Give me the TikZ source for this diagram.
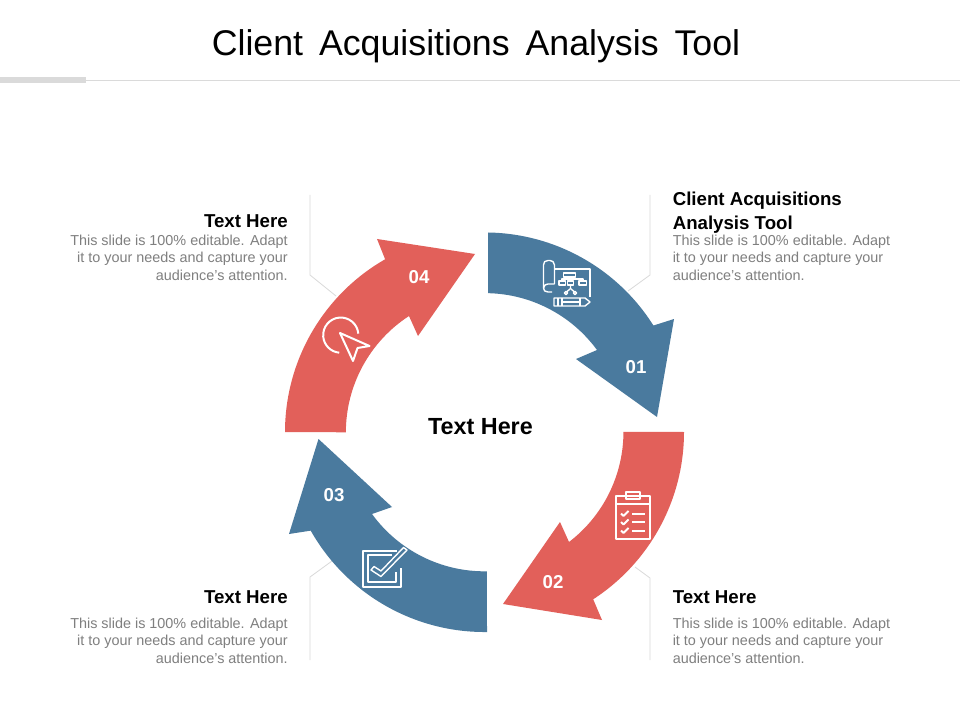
\documentclass[tikz,border=0pt]{standalone}
\usepackage{fontspec}
\setmainfont{Liberation Sans}
\usetikzlibrary{positioning}
\definecolor{arrowblue}{HTML}{4A7A9E}
\definecolor{arrowred}{HTML}{E2605A}
\definecolor{leadergray}{HTML}{DADADA}
\definecolor{bodygray}{HTML}{7F7F7F}
\tikzset{
  titletext/.style={font=\fontsize{26.8}{32}\selectfont,text=black,inner sep=0pt},
  headtext/.style={font=\fontsize{14}{18}\selectfont\bfseries,text=black,inner sep=0pt},
  bodytext/.style={font=\fontsize{10.8}{13.1}\selectfont,text=bodygray,inner sep=0pt},
  numtext/.style={font=\fontsize{14}{16}\selectfont\bfseries,text=white,inner sep=0pt},
  centertext/.style={font=\fontsize{17.5}{20}\selectfont\bfseries,text=black,inner sep=0pt},
  leader/.style={draw=leadergray,line width=0.6pt},
  icon/.style={draw=white,line width=1.5pt,line join=round},
  iconthin/.style={draw=white,line width=1.05pt,line join=round}
}
\begin{document}
\begin{tikzpicture}[x=0.75pt,y=-0.75pt]
      \path[use as bounding box,fill=white] (0,0) rectangle (960,720);
      %% Title
      \node[titletext] (title) at (476,46) {Client\hspace{4.5pt} Acquisitions\hspace{4.5pt} Analysis\hspace{4.5pt} Tool};
      \fill[leadergray] (0,77) rectangle (86,83);
      \coordinate (rulea) at (86,80);
      \coordinate (ruleb) at (960,80);
      \draw[leader] (rulea) -- (ruleb);
      %% Leader lines
      \coordinate (l1a) at (650,195);
      \coordinate (l1b) at (650,275);
      \coordinate (l1c) at (628,291);
      \coordinate (l2a) at (650,660);
      \coordinate (l2b) at (650,578);
      \coordinate (l2c) at (635,567);
      \coordinate (l3a) at (310,660);
      \coordinate (l3b) at (310,577);
      \coordinate (l3c) at (332,561);
      \coordinate (l4a) at (310,195);
      \coordinate (l4b) at (310,275);
      \coordinate (l4c) at (336,296);
      \draw[leader] (l1a) -- (l1b) -- (l1c);
      \draw[leader] (l2a) -- (l2b) -- (l2c);
      \draw[leader] (l3a) -- (l3b) -- (l3c);
      \draw[leader] (l4a) -- (l4b) -- (l4c);
      %% Arrows
      \fill[arrowblue] (488,232.5) arc[start angle=89.1,end angle=32.2,radius=149.4pt]
        -- (674,319) -- (657,417) -- (576,359) -- (597,350)
        arc[start angle=36.2,end angle=88.7,radius=104.2pt] -- cycle;
      \fill[arrowred] (684,432) arc[start angle=0,end angle=-57,radius=149.6pt]
        -- (602,620) -- (503,604) -- (560,522) -- (569,542)
        arc[start angle=-52.6,end angle=0,radius=104pt] -- cycle;
      \fill[arrowblue] (487,632) arc[start angle=-89.3,end angle=-150.5,radius=149.8pt]
        -- (289,534) -- (318.5,439) -- (392,507) -- (372,514)
        arc[start angle=-144,end angle=-89,radius=104.3pt] -- cycle;
      \fill[arrowred] (285,432) arc[start angle=180,end angle=119.8,radius=149.3pt]
        -- (377,239) -- (475,254) -- (418,336) -- (409,316)
        arc[start angle=123,end angle=180,radius=104pt] -- cycle;
      %% Numbers
      \node[numtext] (n1) at (636,367) {01};
      \node[numtext] (n2) at (553,582) {02};
      \node[numtext] (n3) at (334,495) {03};
      \node[numtext] (n4) at (419,277) {04};
      \node[centertext] (middle) at (480.5,427) {Text Here};
      %% Blueprint icon
      \draw[iconthin] (554.5,284) -- (554.5,265) .. controls (554.5,262) and (552,260.5) .. (550,260.5)
        -- (548,260.5) .. controls (545,260.5) and (543.5,262) .. (543.5,265) -- (543.5,288)
        .. controls (543.5,290.5) and (545,292) .. (548,292) -- (552,292);
      \draw[iconthin] (543.5,288) .. controls (544,285) and (546,284) .. (548,284) -- (554.5,284);
      \draw[iconthin] (554.5,269) -- (590,269) -- (590,297);
      \draw[iconthin] (563.5,273) rectangle (575.5,277);
      \draw[iconthin] (559,281) rectangle (565.5,285);
      \draw[iconthin] (567.5,281) rectangle (573.5,285);
      \draw[iconthin] (579,281) rectangle (586.5,285);
      \draw[iconthin] (562,281) -- (562,279) -- (583,279) -- (583,281);
      \draw[iconthin] (570.5,277) -- (570.5,281);
      \draw[iconthin] (570.5,285) -- (570.5,289) (570,289) -- (567,291.5) (571,289) -- (574,291.5);
      \draw[iconthin] (566,293) circle[radius=1.2pt] (575,293) circle[radius=1.2pt];
      \draw[iconthin] (554,298) -- (585,298) -- (590,302) -- (585,306) -- (554,306) -- cycle;
      \draw[iconthin] (558,298) -- (558,306) (562,298) -- (562,306) (562,302) -- (580,302) (580,298) -- (580,306);
      %% Clipboard icon
      \draw[icon] (615.5,496) rectangle (649.5,538.5);
      \draw[icon] (626,492) rectangle (640,499);
      \draw[icon] (615.5,503.5) -- (649.5,503.5);
      \foreach \rowy in {513.5,522,530.5}{
        \draw[icon] (621,\rowy) -- (623.5,\rowy+2.5) -- (628.5,\rowy-2.5);
        \draw[icon] (632,\rowy) -- (644.5,\rowy);
      }
      %% Checkbox icon
      \draw[icon] (396.5,550.5) -- (363,550.5) -- (363,586.5) -- (400.5,586.5) -- (400.5,568);
      \draw[icon] (391.5,555) -- (367.5,555) -- (367.5,581.5) -- (395.5,581.5) -- (395.5,572);
      \draw[iconthin] (371,570) -- (374,566.5) -- (381,571) -- (403.5,547.5) -- (407,550) -- (381,576.5) -- cycle;
      %% Cursor icon
      \draw[icon] (358.3,333.6) arc[start angle=5,end angle=265,radius=13.2pt];
      \draw[icon] (340,333) -- (369.5,346) -- (357.5,348) -- (353,361) -- cycle;
      %% Side texts
      \node[bodytext,anchor=north west,align=left] (body1) at (672.5,234.5) {This slide is 100\% editable. Adapt\\it to your needs and capture your\\audience's attention.};
      \node[headtext,align=left,above=0.5pt of body1.north west,anchor=south west] (head1) {Client Acquisitions\\Analysis Tool};
      \node[bodytext,anchor=north west,align=left] (body2) at (672.5,617.5) {This slide is 100\% editable. Adapt\\it to your needs and capture your\\audience's attention.};
      \node[headtext,above=10.25pt of body2.north west,anchor=south west] (head2) {Text Here};
      \node[bodytext,anchor=north east,align=right] (body3) at (288,617.5) {This slide is 100\% editable. Adapt\\it to your needs and capture your\\audience's attention.};
      \node[headtext,above=10.25pt of body3.north east,anchor=south east] (head3) {Text Here};
      \node[bodytext,anchor=north east,align=right] (body4) at (288,234.5) {This slide is 100\% editable. Adapt\\it to your needs and capture your\\audience's attention.};
      \node[headtext,above=5pt of body4.north east,anchor=south east] (head4) {Text Here};
    \end{tikzpicture}
\end{document}
